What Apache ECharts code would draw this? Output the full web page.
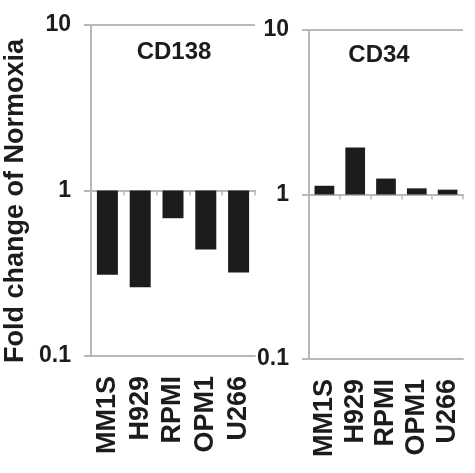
<!DOCTYPE html>
<html><head><meta charset="utf-8">
<script src="https://cdn.jsdelivr.net/npm/echarts@6/dist/echarts.min.js"></script>
<style>html,body{margin:0;padding:0;background:#fff}#c{width:475px;height:473px}</style>
</head><body><div id="c"></div>
<script>
const categories = ['MM1S', 'H929', 'RPMI', 'OPM1', 'U266'];
const cd138 = [0.31, 0.26, 0.68, 0.44, 0.32];
const cd34 = [1.13, 1.93, 1.25, 1.09, 1.07];
const yTicks = [0.1, 1, 10];
const panelTitles = ['CD138', 'CD34'];
const yTitle = 'Fold change of Normoxia';

const FONT = '"Liberation Sans", Arial, sans-serif';
const GRAY = '#b8b8b8';
const INK = '#1c1c1c';
const grids = [
  {left: 91, top: 25, width: 164, height: 331},
  {left: 309, top: 30, width: 154, height: 329}
];
const xAxes = [], yAxes = [], series = [];
[cd138, cd34].forEach((vals, i) => {
  xAxes.push({
    type: 'category', gridIndex: i, data: categories, position: 'bottom',
    axisLine: {lineStyle: {color: GRAY, width: 2}},
    axisTick: {show: false},
    axisLabel: {interval: 0, rotate: 90, fontSize: 27, fontWeight: 'bold', fontFamily: FONT, color: INK, margin: 20}
  });
  xAxes.push({
    type: 'category', gridIndex: i, data: categories, position: 'bottom',
    offset: -(grids[i].height / 2),
    axisLine: {lineStyle: {color: GRAY, width: 2}},
    axisTick: {show: true, interval: 0, length: 5, lineStyle: {color: GRAY, width: 1.5}},
    axisLabel: {show: false}
  });
  yAxes.push({
    type: 'log', logBase: 10, min: yTicks[0], max: yTicks[yTicks.length - 1], gridIndex: i,
    axisLine: {show: true, lineStyle: {color: GRAY, width: 2}},
    axisTick: {show: true, length: 7, lineStyle: {color: GRAY, width: 2}},
    splitLine: {show: true, lineStyle: {color: GRAY, width: 2}},
    axisLabel: {fontSize: 23, fontWeight: 'bold', fontFamily: FONT, color: INK, margin: 20,
      formatter: v => String(v)}
  });
  series.push({
    type: 'bar', xAxisIndex: i * 2, yAxisIndex: i, data: vals,
    barWidth: '64%', itemStyle: {color: INK}, silent: true
  });
});

const chart = echarts.init(document.getElementById('c'), null, {renderer: 'canvas'});
chart.setOption({
  animation: false,
  backgroundColor: '#fff',
  grid: grids,
  xAxis: xAxes,
  yAxis: yAxes,
  series: series,
  graphic: [
    {type: 'text', x: 174, y: 52, style: {text: panelTitles[0], font: 'bold 24px ' + FONT, fill: INK, align: 'center', verticalAlign: 'middle'}},
    {type: 'text', x: 379, y: 55, style: {text: panelTitles[1], font: 'bold 24px ' + FONT, fill: INK, align: 'center', verticalAlign: 'middle'}},
    {type: 'text', x: 16, y: 201, rotation: Math.PI / 2, style: {text: yTitle, font: 'bold 27px ' + FONT, fill: INK, align: 'center', verticalAlign: 'middle'}}
  ]
});
</script></body></html>
